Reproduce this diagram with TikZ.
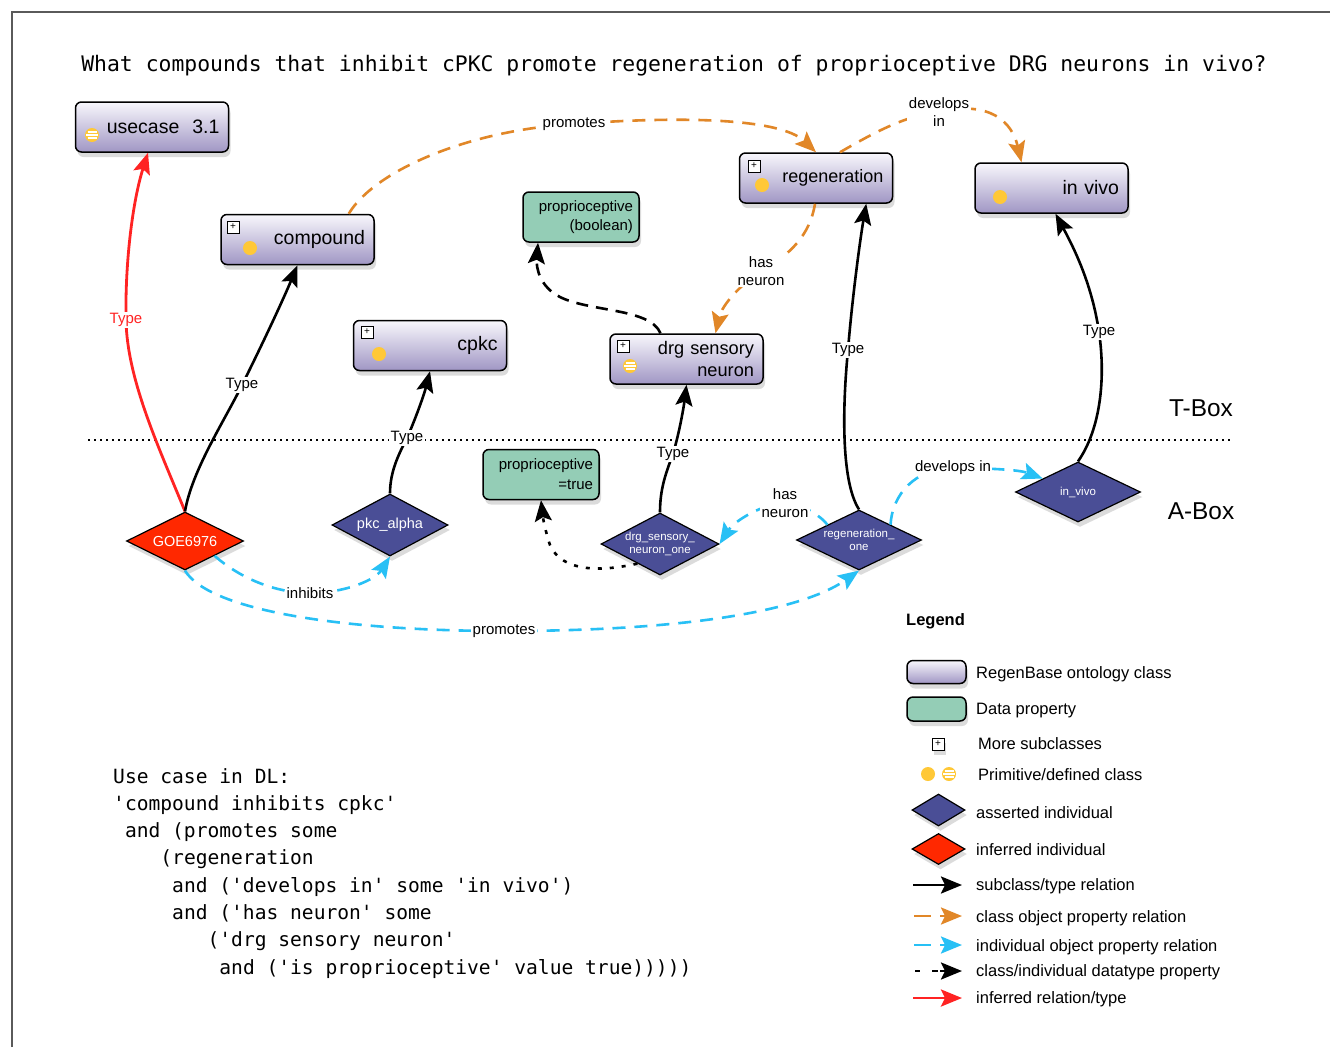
\documentclass[tikz,border=0pt]{standalone}
\usepackage{fontspec}
\setmainfont{Liberation Sans}
\setmonofont{DejaVu Sans Mono}
\usetikzlibrary{shapes.geometric,arrows.meta,shadows,calc}

\definecolor{boxtop}{RGB}{248,247,252}
\definecolor{boxbot}{RGB}{160,150,196}
\definecolor{dpgreen}{RGB}{148,205,182}
\definecolor{indblue}{RGB}{74,78,150}
\definecolor{infred}{RGB}{255,40,0}
\definecolor{arrred}{RGB}{255,35,35}
\definecolor{propor}{RGB}{225,135,40}
\definecolor{propcy}{RGB}{40,192,245}
\definecolor{dotyel}{RGB}{255,200,55}
\definecolor{framegray}{RGB}{90,90,90}

\tikzset{
  myshadow/.style={drop shadow={shadow xshift=2pt, shadow yshift=-5pt, opacity=0.28}},
  cls/.style={draw=black, line width=1.5pt, rounded corners=6pt, top color=boxtop, bottom color=boxbot,
    minimum width=153pt, minimum height=50pt, text width=135pt, align=right, inner xsep=9pt, inner ysep=0pt,
    font=\fontsize{19.5}{23}\selectfont, myshadow},
  dprop/.style={draw=black, line width=1.5pt, rounded corners=6pt, fill=dpgreen,
    minimum width=116pt, minimum height=50pt, text width=104pt, align=right, inner xsep=6pt, inner ysep=0pt,
    font=\fontsize{15}{18.5}\selectfont, myshadow},
  ind/.style={diamond, draw=black, line width=1.2pt, fill=indblue, text=white, inner sep=0pt, aspect=2,
    align=center, font=\fontsize{11.5}{13.5}\selectfont, myshadow},
  infind/.style={ind, fill=infred},
  plusbox/.style={draw=black, line width=0.7pt, fill=white, minimum size=12pt, inner sep=0pt,
    font=\fontsize{10}{10}\selectfont},
  lbl/.style={fill=white, inner sep=1.5pt, font=\fontsize{15}{18}\selectfont, align=center},
  tip/.style={-{Stealth[length=21pt,width=17pt,inset=4pt]}},
  typeedge/.style={tip, line width=2.6pt, draw=black},
  infedge/.style={tip, line width=2.8pt, draw=arrred},
  clsprop/.style={tip, line width=2.6pt, draw=propor, dash pattern=on 13pt off 9pt},
  indprop/.style={tip, line width=2.6pt, draw=propcy, dash pattern=on 13pt off 9pt},
  dataprop/.style={tip, line width=2.6pt, draw=black, dash pattern=on 12pt off 8pt},
  dataind/.style={tip, line width=2.6pt, draw=black, dash pattern=on 4pt off 8pt},
  lgtxt/.style={anchor=west, font=\fontsize{16.5}{19}\selectfont, inner sep=0pt},
  codeline/.style={anchor=base west, inner sep=0pt, font=\ttfamily\fontsize{19.6}{22}\selectfont},
  primdot/.pic={\fill[dotyel] (0,0) circle (7pt);},
  defdot/.pic={\fill[dotyel] (0,0) circle (7pt);
    \draw[white, line width=1.1pt] (-4.5,-3)--(4.5,-3) (-5.6,0)--(5.6,0) (-4.5,3)--(4.5,3);},
}

\begin{document}
\begin{tikzpicture}[x=1pt,y=-1pt]
\useasboundingbox (0,0) rectangle (1330,1047);
\fill[white] (0,0) rectangle (1330,1047);
\draw[framegray, line width=1.3pt] (12,1047) -- (12,12) -- (1330,12);

% title
\node[inner sep=0pt, font=\ttfamily\fontsize{21.4}{24}\selectfont] (title) at (674,66)
  {What compounds that inhibit cPKC promote regeneration of proprioceptive DRG neurons in vivo?};

% T-Box / A-Box separator
\draw[line width=1.3pt, dash pattern=on 1.6pt off 4.4pt] (88,440) -- (1232,440);
\node[font=\fontsize{24.4}{28}\selectfont] (tbox) at (1201,408) {T-Box};
\node[font=\fontsize{24.4}{28}\selectfont] (abox) at (1201,511) {A-Box};

% class boxes
\node[cls] (usecase) at (152,127) {usecase\ \ 3.1};
\node[cls] (compound) at (297.5,239.5) {compound};
\node[cls] (cpkc) at (430,345.5) {cpkc};
\node[cls, font=\fontsize{18}{22}\selectfont] (regeneration) at (816,178) {regeneration};
\node[cls] (invivo) at (1051.5,188) {in vivo};
\node[cls, font=\fontsize{18.2}{22.5}\selectfont] (drg) at (686.5,359) {drg sensory\\neuron};

% data properties
\node[dprop] (boolprop) at (581,217) {proprioceptive\\(boolean)};
\node[dprop, font=\fontsize{15}{20}\selectfont] (ptrue) at (541,474.5) {proprioceptive\\=true};

% icons
\pic at (92,135) {defdot};
\node[plusbox] (pl1) at (233,227) {+};
\pic at (250,248) {primdot};
\node[plusbox] (pl2) at (367,332) {+};
\pic at (379,354) {primdot};
\node[plusbox] (pl3) at (754,166) {+};
\pic at (762,185) {primdot};
\pic at (1000,197) {primdot};
\node[plusbox] (pl4) at (623,346) {+};
\pic at (630,366) {defdot};

% individuals
\node[infind, minimum width=117pt, minimum height=58pt, font=\fontsize{14.5}{16}\selectfont] (GOE) at (185,541) {GOE6976};
\node[ind, minimum width=116pt, minimum height=62pt, font=\fontsize{14.5}{16}\selectfont] (pkc) at (390,525) {pkc\_alpha};
\node[ind, minimum width=116pt, minimum height=62pt] (drgone) at (660,544) {drg\_sensory\_\\neuron\_one};
\node[ind, minimum width=125pt, minimum height=60pt] (regone) at (859,540) {regeneration\_\\one};
\node[ind, minimum width=125pt, minimum height=60pt] (invivoi) at (1078,492) {in\_vivo};

% inferred type (red)
\draw[infedge] (GOE.north) .. controls (160,450) and (127,380) .. (126,320)
  node[lbl, text=arrred] {Type}
  .. controls (125,260) and (133,200) .. ($(usecase.south)+(-4,0)$);

% type edges
\draw[typeedge] (GOE.north) .. controls (192,470) and (225,420) .. (242,385)
  node[lbl] {Type}
  .. controls (262,345) and (283,300) .. (compound.south);
\draw[typeedge] (pkc.north) .. controls (390,470) and (400,452) .. (407,438)
  node[lbl] {Type}
  .. controls (415,420) and (424,395) .. (cpkc.south);
\draw[typeedge] (drgone.north) .. controls (660,490) and (665,475) .. (673,454)
  node[lbl] {Type}
  .. controls (680,430) and (684,405) .. (drg.south);
\draw[typeedge] (regone.north) .. controls (840,480) and (843,400) .. (848,350)
  node[lbl] {Type}
  .. controls (852,300) and (860,240) .. ($(regeneration.south east)+(-27,0)$);
\draw[typeedge] (invivoi.north) .. controls (1100,430) and (1106,380) .. (1099,332)
  node[lbl] {Type}
  .. controls (1092,285) and (1075,250) .. ($(invivo.south)+(4,0)$);

% class object properties (orange)
\draw[clsprop] ($(compound.north east)+(-26,0)$) .. controls (375,170) and (470,130) .. (574,124)
  node[lbl] {promotes}
  .. controls (680,116) and (780,118) .. (regeneration.north);
\draw[clsprop] ($(regeneration.north)+(24,0)$) .. controls (870,135) and (905,115) .. (939,112)
  node[lbl] {develops\\in}
  .. controls (990,100) and (1012,122) .. ($(invivo.north)+(-30,0)$);
\draw[clsprop] ($(regeneration.south)+(-1,0)$) .. controls (810,235) and (790,255) .. (761,271)
  node[lbl] {has\\neuron}
  .. controls (740,285) and (722,305) .. ($(drg.north)+(29,0)$);

% datatype properties
\draw[dataprop] ($(drg.north)+(-26,0)$) .. controls (650,308) and (590,312) .. (560,297)
  .. controls (540,287) and (536,268) .. ($(boolprop.south)+(-43,0)$);
\draw[dataind] ($(drgone.west)!0.62!(drgone.south)$) .. controls (600,572) and (562,572) .. (550,545)
  .. controls (545,530) and (543,518) .. (ptrue.south);

% individual object properties (cyan)
\draw[indprop] ($(regone.west)!0.5!(regone.north)$) .. controls (820,515) and (800,503) .. (785,503)
  node[lbl] {has\\neuron}
  .. controls (765,503) and (735,520) .. (drgone.east);
\draw[indprop] ($(regone.north)!0.5!(regone.east)$) .. controls (892,495) and (915,468) .. (953,468)
  node[lbl] {develops in}
  .. controls (990,468) and (1020,470) .. ($(invivoi.west)!0.44!(invivoi.north)$);
\draw[indprop] ($(GOE.south)!0.5!(GOE.east)$) .. controls (240,578) and (275,593) .. (310,593)
  node[lbl] {inhibits}
  .. controls (345,593) and (375,580) .. (pkc.south);
\draw[indprop] (GOE.south) .. controls (210,612) and (350,631) .. (504,631)
  node[lbl] {promotes}
  .. controls (680,631) and (800,612) .. (regone.south);

% legend
\node[anchor=west, inner sep=0pt, font=\bfseries\fontsize{16.5}{19}\selectfont] (lgtitle) at (906,621) {Legend};
\node[draw=black, line width=1.5pt, rounded corners=6pt, top color=boxtop, bottom color=boxbot,
  minimum width=59pt, minimum height=23pt, inner sep=0pt, myshadow] (lg1) at (936.5,672) {};
\node[lgtxt] (lt1) at (976,674) {RegenBase ontology class};
\node[draw=black, line width=1.5pt, rounded corners=6pt, fill=dpgreen,
  minimum width=59pt, minimum height=24pt, inner sep=0pt, myshadow] (lg2) at (936.5,709) {};
\node[lgtxt] (lt2) at (976,711) {Data property};
\node[plusbox, myshadow] (lg3) at (938,744) {+};
\node[lgtxt] (lt3) at (978,744) {More subclasses};
\pic at (928,774) {primdot};
\pic at (949,774) {defdot};
\node[lgtxt] (lt4) at (978,775) {Primitive/defined class};
\node[ind, minimum width=53pt, minimum height=32pt] (lg5) at (938.5,810) {};
\node[lgtxt] (lt5) at (976,813) {asserted individual};
\node[infind, minimum width=53pt, minimum height=31pt] (lg6) at (938.5,849) {};
\node[lgtxt] (lt6) at (976,850) {inferred individual};
\coordinate (la1) at (913,885); \coordinate (lb1) at (962,885);
\draw[typeedge] (la1) -- (lb1);
\node[lgtxt] (lt7) at (976,886) {subclass/type relation};
\draw[propor, line width=2.6pt] (914,916) -- (931,916);
\coordinate (la2) at (940,916); \coordinate (lb2) at (962,916);
\draw[tip, propor, line width=2.6pt] (la2) -- (lb2);
\node[lgtxt] (lt8) at (976,918) {class object property relation};
\draw[propcy, line width=2.6pt] (914,945) -- (931,945);
\coordinate (la3) at (940,945); \coordinate (lb3) at (962,945);
\draw[tip, propcy, line width=2.6pt] (la3) -- (lb3);
\node[lgtxt] (lt9) at (976,947) {individual object property relation};
\draw[black, line width=2.6pt] (915,971) -- (920,971) (932,971) -- (938,971);
\coordinate (la4) at (940,971); \coordinate (lb4) at (962,971);
\draw[tip, black, line width=2.6pt] (la4) -- (lb4);
\node[lgtxt] (lt10) at (976,972) {class/individual datatype property};
\coordinate (la5) at (913,998); \coordinate (lb5) at (962,998);
\draw[infedge] (la5) -- (lb5);
\node[lgtxt] (lt11) at (976,999) {inferred relation/type};

% DL code
\node[codeline] (c1) at (113,783) {Use case in DL:};
\node[codeline] (c2) at (113,810.3) {'compound inhibits cpkc'};
\node[codeline] (c3) at (124.8,837.6) {and (promotes some};
\node[codeline] (c4) at (160.2,864.9) {(regeneration};
\node[codeline] (c5) at (172,892.2) {and ('develops in' some 'in vivo')};
\node[codeline] (c6) at (172,919.5) {and ('has neuron' some};
\node[codeline] (c7) at (207.4,946.8) {('drg sensory neuron'};
\node[codeline] (c8) at (219.2,974.1) {and ('is proprioceptive' value true)))))};
\end{tikzpicture}
\end{document}
